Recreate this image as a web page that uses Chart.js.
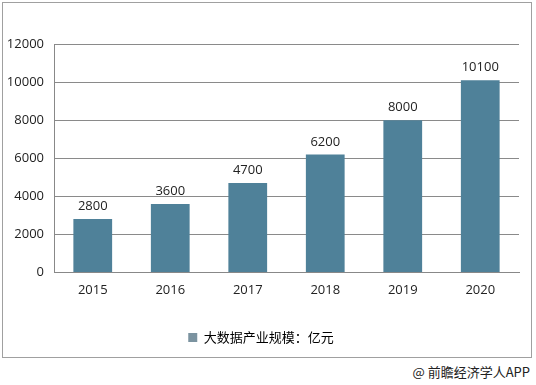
<!DOCTYPE html>
<html>
<head>
<meta charset="utf-8">
<script src="https://cdn.jsdelivr.net/npm/chart.js@4.4.1/dist/chart.umd.min.js"></script>
<style>
  html, body { margin: 0; padding: 0; background: #fff; }
  body { width: 536px; height: 385px; position: relative; overflow: hidden; }
  #frame {
    position: absolute; left: 2px; top: 2px; width: 528px; height: 354px;
    border: 1px solid #a0a0a0; box-sizing: content-box;
  }
  #frame canvas { display: block; }
  #credit {
    position: absolute; right: 6px; top: 362px;
    font: 13px "Noto Sans CJK SC", "Noto Sans", sans-serif; color: #222;
  }
</style>
</head>
<body>
<div id="frame"><canvas id="c" width="528" height="354"></canvas></div>
<div id="credit">@ 前瞻经济学人APP</div>
<script>
// 大数据产业规模（亿元）
const years = ['2015', '2016', '2017', '2018', '2019', '2020'];
const scale = [2800, 3600, 4700, 6200, 8000, 10100];
const seriesName = '大数据产业规模：亿元';
const barColor = '#4f8199';

// 柱顶数值
const valueLabels = {
  id: 'valueLabels',
  afterDatasetsDraw(chart) {
    const ctx = chart.ctx;
    const meta = chart.getDatasetMeta(0);
    ctx.save();
    ctx.font = '13px "Open Sans", "Noto Sans", sans-serif';
    ctx.fillStyle = '#222';
    ctx.textAlign = 'center';
    ctx.textBaseline = 'bottom';
    meta.data.forEach((bar, i) => {
      ctx.fillText(scale[i], bar.x, bar.y - 6);
    });
    ctx.restore();
  }
};

new Chart(document.getElementById('c'), {
  type: 'bar',
  data: {
    labels: years,
    datasets: [{
      label: seriesName,
      data: scale,
      backgroundColor: barColor,
      borderWidth: 0,
      barPercentage: 0.5,
      categoryPercentage: 1,
    }],
  },
  options: {
    responsive: false,
    animation: false,
    layout: { padding: { top: 41, right: 12, left: 0, bottom: 3 } },
    plugins: {
      legend: {
        position: 'bottom',
        labels: {
          color: '#222',
          boxWidth: 9,
          boxHeight: 9,
          padding: 18,
          font: { size: 13, family: '"Noto Sans CJK SC", sans-serif' },
          generateLabels: chart => [{
            text: seriesName,
            fillStyle: '#7b93a0',
            strokeStyle: '#7b93a0',
            lineWidth: 0,
            datasetIndex: 0,
          }],
        },
      },
      tooltip: { enabled: false },
    },
    scales: {
      x: {
        grid: { display: false, drawTicks: false },
        border: { color: '#888' },
        afterFit: s => { s.height += 5; },
        ticks: { color: '#222', padding: 10, font: { size: 13, family: '"Open Sans", sans-serif' } },
      },
      y: {
        min: 0,
        max: 12000,
        afterFit: s => { s.width = 51; },
        grid: { color: '#8a8a8a', drawTicks: false },
        border: { color: '#888' },
        ticks: {
          stepSize: 2000,
          color: '#222',
          padding: 10,
          font: { size: 13, family: '"Open Sans", sans-serif' },
          callback: v => String(v),
        },
      },
    },
  },
  plugins: [valueLabels],
});
</script>
</body>
</html>
